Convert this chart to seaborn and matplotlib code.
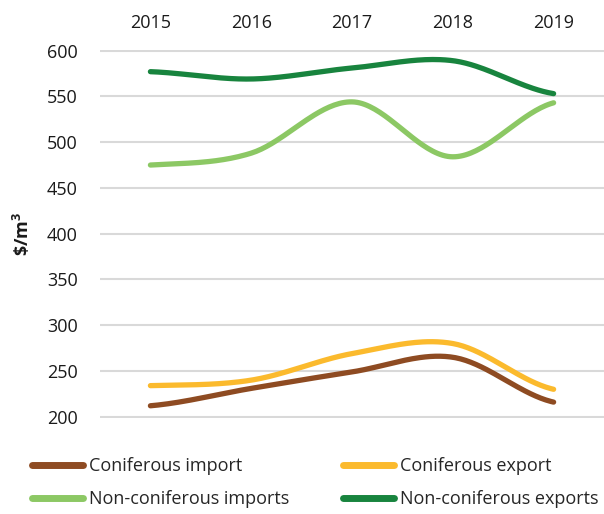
import numpy as np
import pandas as pd
import matplotlib
matplotlib.use("Agg")
import matplotlib.pyplot as plt
import seaborn as sns

years = ["2015", "2016", "2017", "2018", "2019"]
coniferous_import = [212, 231, 249, 265, 216]
coniferous_export = [234, 240, 269, 280, 230]
non_coniferous_imports = [475, 488, 544, 484, 543]
non_coniferous_exports = [577, 569, 581, 589, 553]

series = {
    "Coniferous import": coniferous_import,
    "Coniferous export": coniferous_export,
    "Non-coniferous imports": non_coniferous_imports,
    "Non-coniferous exports": non_coniferous_exports,
}
colors = {
    "Coniferous import": "#8E4B22",
    "Coniferous export": "#FBBA2D",
    "Non-coniferous imports": "#8CC864",
    "Non-coniferous exports": "#18843E",
}


def smooth(vals, steps=40):
    # catmull-rom style smoothing, like Excel's "smoothed line"
    y = np.asarray(vals, dtype=float)
    n = len(y)
    m = np.zeros(n)
    m[1:-1] = (y[2:] - y[:-2]) / 2
    m[0] = (y[1] - y[0]) / 2
    m[-1] = (y[-1] - y[-2]) / 2
    xs, ys = [], []
    for i in range(n - 1):
        t = np.linspace(0, 1, steps, endpoint=(i == n - 2))
        h00 = 2 * t**3 - 3 * t**2 + 1
        h10 = t**3 - 2 * t**2 + t
        h01 = -2 * t**3 + 3 * t**2
        h11 = t**3 - t**2
        xs.append(i + t)
        ys.append(h00 * y[i] + h10 * m[i] + h01 * y[i + 1] + h11 * m[i + 1])
    return np.concatenate(xs), np.concatenate(ys)


frames = []
for name, vals in series.items():
    sx, sy = smooth(vals)
    frames.append(pd.DataFrame({"x": sx, "y": sy, "series": name}))
df = pd.concat(frames, ignore_index=True)

sns.set_theme(style="white")
plt.rcParams["font.family"] = ["Open Sans", "DejaVu Sans"]
plt.rcParams["mathtext.fontset"] = "custom"
plt.rcParams["mathtext.bf"] = "Open Sans:bold"
plt.rcParams["mathtext.rm"] = "Open Sans"

fig = plt.figure(figsize=(6.04, 5.14), dpi=100)
ax = fig.add_axes([0.1656, 0.1874, 0.8344, 0.7159])

sns.lineplot(data=df, x="x", y="y", hue="series", palette=colors,
             linewidth=3.8, estimator=None, sort=False, ax=ax,
             legend=True, solid_capstyle="round")

handles, labels = ax.get_legend_handles_labels()
ax.get_legend().remove()
order = ["Coniferous import", "Non-coniferous imports",
         "Coniferous export", "Non-coniferous exports"]
hmap = dict(zip(labels, handles))
hs = [hmap[k] for k in order]
for h in hs:
    h.set_linewidth(5)
    h.set_solid_capstyle("round")
fig.legend(hs, order, loc="upper left", bbox_to_anchor=(0.053, 0.11),
           ncol=2, frameon=False, fontsize=13, handlelength=2.8,
           handletextpad=0.35, columnspacing=3.0, labelspacing=0.8,
           borderaxespad=0, borderpad=0)

ax.set_xlim(-0.5, 4.5)
ax.set_ylim(199, 601)
ax.set_xticks(range(len(years)))
ax.set_xticklabels(years)
ax.set_yticks(range(200, 601, 50))
ax.xaxis.tick_top()
ax.tick_params(axis="x", length=0, pad=13, labelsize=13, colors="#1a1a1a")
ax.tick_params(axis="y", length=0, pad=16, labelsize=13, colors="#1a1a1a")
ax.yaxis.grid(True, color="#D9D9D9", linewidth=1.5)
ax.set_axisbelow(True)
for s in ax.spines.values():
    s.set_visible(False)
ax.set_xlabel("")
ax.set_ylabel(r"$\mathbf{\$/m^3}$", fontsize=13, labelpad=10,
              color="#1a1a1a")

fig.savefig("out.png", dpi=100)
